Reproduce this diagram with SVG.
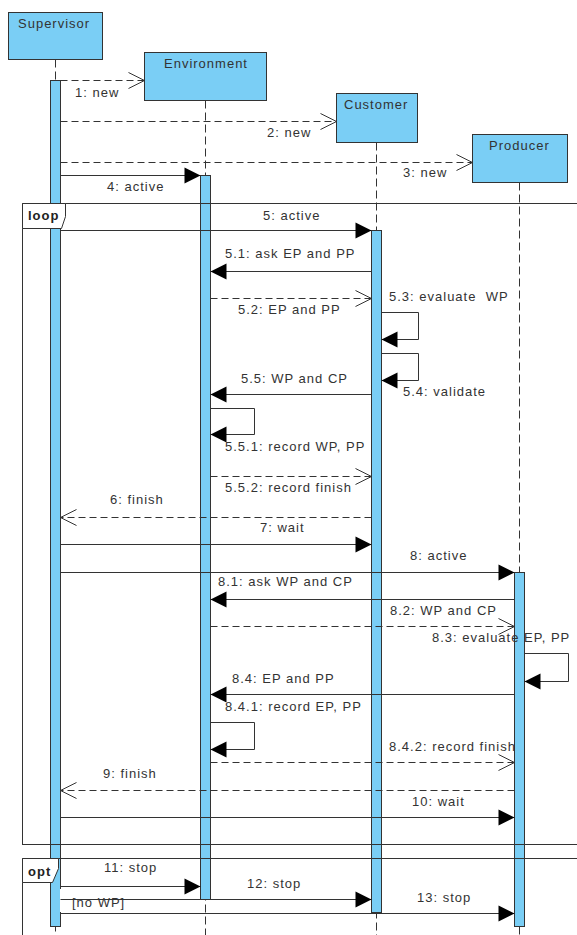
<svg xmlns="http://www.w3.org/2000/svg" width="577" height="935" viewBox="0 0 577 935">
<style>
.bg{fill:#fff}
.head{fill:#7acef5;stroke:#333;stroke-width:1}
.bar{fill:#7acef5;stroke:#333;stroke-width:1}
.life{stroke:#333;stroke-width:1;stroke-dasharray:8,4;fill:none}
.frame{fill:none;stroke:#333;stroke-width:1}
.tab{fill:#fff;stroke:#333;stroke-width:1}
.msg{stroke:#333;stroke-width:1;fill:none}
.sync{marker-end:url(#filled)}
.ret{stroke-dasharray:7,4;marker-end:url(#open)}
.t{font-family:"Liberation Sans",Arial,sans-serif;font-size:13px;letter-spacing:1px;fill:#333}
.b{font-weight:bold;fill:#222}
</style>
<defs>
<marker id="filled" markerUnits="userSpaceOnUse" markerWidth="17" markerHeight="17" refX="16" refY="8" orient="auto" overflow="visible"><path d="M0,0 L16,8 L0,16 Z" fill="#000"/></marker>
<marker id="open" markerUnits="userSpaceOnUse" markerWidth="17" markerHeight="17" refX="16" refY="8" orient="auto" overflow="visible"><path d="M0,0 L16,8 L0,16" fill="none" stroke="#333" stroke-width="1"/></marker>
</defs>
<rect class="bg" x="0" y="0" width="577" height="935"/>

<g id="lifelines">
<g id="supervisor">
<line class="life" x1="55.5" y1="59.5" x2="55.5" y2="935"/>
<rect class="head" x="8.5" y="12.5" width="94" height="47"/>
<text class="t" x="18" y="28">Supervisor</text>
<rect class="bar" x="50.5" y="80.5" width="10" height="846"/>
</g>
<g id="environment">
<line class="life" x1="205.5" y1="100.5" x2="205.5" y2="935"/>
<rect class="head" x="144.5" y="52.5" width="122" height="48"/>
<text class="t" x="164" y="68">Environment</text>
<rect class="bar" x="200.5" y="175.5" width="10" height="724"/>
</g>
<g id="customer">
<line class="life" x1="376.5" y1="142.5" x2="376.5" y2="935"/>
<rect class="head" x="336.5" y="93.5" width="81" height="49"/>
<text class="t" x="344" y="109">Customer</text>
<rect class="bar" x="371.5" y="230.5" width="10" height="682"/>
</g>
<g id="producer">
<line class="life" x1="519.5" y1="182.5" x2="519.5" y2="935"/>
<rect class="head" x="472.5" y="134.5" width="95" height="48"/>
<text class="t" x="489" y="150">Producer</text>
<rect class="bar" x="514.5" y="572.5" width="10" height="354"/>
</g>
</g>

<g id="loop-fragment">
<rect class="frame" x="22.5" y="203.5" width="580" height="641"/>
<path class="tab" d="M22.5,203.5 H65.5 V216.5 L61.5,228.5 H22.5 Z"/>
<text class="t b" x="28" y="220">loop</text>
</g>
<g id="opt-fragment">
<rect class="frame" x="22.5" y="858.5" width="580" height="100"/>
<path class="tab" d="M22.5,858.5 H58.5 V868.5 L52.5,882.5 H22.5 Z"/>
<text class="t b" x="28" y="876">opt</text>
<rect x="60" y="889" width="66" height="23" fill="#fff"/>
<text class="t" x="72" y="907">[no WP]</text>
</g>

<g id="connectors">
<line class="msg ret" x1="60.5" y1="80.5" x2="144.5" y2="80.5"/>
<line class="msg ret" x1="60.5" y1="121.5" x2="336.5" y2="121.5"/>
<line class="msg ret" x1="60.5" y1="162.5" x2="472.5" y2="162.5"/>
<line class="msg sync" x1="60.5" y1="175.5" x2="200.5" y2="175.5"/>
<line class="msg sync" x1="60.5" y1="230.5" x2="371.5" y2="230.5"/>
<line class="msg sync" x1="371.5" y1="271.5" x2="210.5" y2="271.5"/>
<line class="msg ret" x1="210.5" y1="298.5" x2="371.5" y2="298.5"/>
<path class="msg sync" d="M381.5,312.5 H418.5 V339.5 H381.5"/>
<path class="msg sync" d="M381.5,353.5 H418.5 V380.5 H381.5"/>
<line class="msg sync" x1="371.5" y1="394.5" x2="210.5" y2="394.5"/>
<path class="msg sync" d="M210.5,408.5 H254.5 V434.5 H210.5"/>
<line class="msg ret" x1="210.5" y1="476.5" x2="371.5" y2="476.5"/>
<line class="msg ret" x1="371.5" y1="517.5" x2="60.5" y2="517.5"/>
<line class="msg sync" x1="60.5" y1="544.5" x2="371.5" y2="544.5"/>
<line class="msg sync" x1="60.5" y1="572.5" x2="514.5" y2="572.5"/>
<line class="msg sync" x1="514.5" y1="599.5" x2="210.5" y2="599.5"/>
<line class="msg ret" x1="210.5" y1="626.5" x2="514.5" y2="626.5"/>
<path class="msg sync" d="M524.5,653.5 H568.5 V681.5 H524.5"/>
<line class="msg sync" x1="514.5" y1="694.5" x2="210.5" y2="694.5"/>
<path class="msg sync" d="M210.5,722.5 H254.5 V749.5 H210.5"/>
<line class="msg ret" x1="210.5" y1="762.5" x2="514.5" y2="762.5"/>
<line class="msg ret" x1="514.5" y1="790.5" x2="60.5" y2="790.5"/>
<line class="msg sync" x1="60.5" y1="817.5" x2="514.5" y2="817.5"/>
<line class="msg sync" x1="60.5" y1="886.5" x2="200.5" y2="886.5"/>
<line class="msg sync" x1="60.5" y1="899.5" x2="371.5" y2="899.5"/>
<line class="msg sync" x1="60.5" y1="913.5" x2="514.5" y2="913.5"/>
</g>

<g id="labels">
<text class="t" x="75" y="97">1: new</text>
<text class="t" x="267" y="137">2: new</text>
<text class="t" x="403" y="177">3: new</text>
<text class="t" x="107" y="191">4: active</text>
<text class="t" x="263" y="220">5: active</text>
<text class="t" x="225" y="258">5.1: ask EP and PP</text>
<text class="t" x="238" y="314">5.2: EP and PP</text>
<text class="t" x="389" y="301" xml:space="preserve">5.3: evaluate  WP</text>
<text class="t" x="403" y="396">5.4: validate</text>
<text class="t" x="241" y="383">5.5: WP and CP</text>
<text class="t" x="225" y="451">5.5.1: record WP, PP</text>
<text class="t" x="225" y="492">5.5.2: record finish</text>
<text class="t" x="110" y="504">6: finish</text>
<text class="t" x="260" y="532">7: wait</text>
<text class="t" x="410" y="560">8: active</text>
<text class="t" x="218" y="586">8.1: ask WP and CP</text>
<text class="t" x="390" y="615">8.2: WP and CP</text>
<text class="t" x="432" y="642">8.3: evaluate EP, PP</text>
<text class="t" x="232" y="683">8.4: EP and PP</text>
<text class="t" x="225" y="711">8.4.1: record EP, PP</text>
<text class="t" x="389" y="751">8.4.2: record finish</text>
<text class="t" x="103" y="778">9: finish</text>
<text class="t" x="412" y="806">10: wait</text>
<text class="t" x="104" y="872">11: stop</text>
<text class="t" x="247" y="888">12: stop</text>
<text class="t" x="417" y="902">13: stop</text>
</g>
</svg>
